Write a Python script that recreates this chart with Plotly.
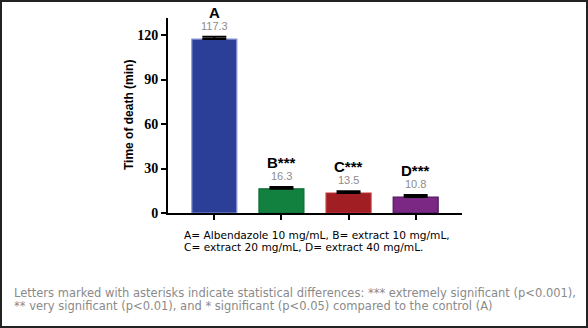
import plotly.graph_objects as go

categories = ["A", "B", "C", "D"]
letter_labels = ["A", "B***", "C***", "D***"]
means = [117.3, 16.3, 13.5, 10.8]
errors = [1.5, 1.2, 1.1, 1.3]
value_labels = ["117.3", "16.3", "13.5", "10.8"]
fill_colors = ["#2c3f98", "#12813f", "#a11f22", "#7a2884"]
line_colors = ["#8696d6", "#0d6b33", "#c0393a", "#4f1560"]
y_ticks = [0, 30, 60, 90, 120]
caption_lines = ["A= Albendazole 10 mg/mL, B= extract 10 mg/mL,",
                 "C= extract 20 mg/mL, D= extract 40 mg/mL."]
note_lines = ["Letters marked with asterisks indicate statistical differences: *** extremely significant (p&lt;0.001),",
              "** very significant (p&lt;0.01), and * significant (p&lt;0.05) compared to the control (A)"]

W, H = 588, 328
L, R, T, B = 168, 462, 18, 213  # plot area in px
pw, ph = R - L, B - T

def px(x):
    return (x - L) / pw

def py(y):
    return (B - y) / ph

fig = go.Figure()
fig.add_trace(go.Bar(
    x=categories, y=means, width=0.67,
    marker=dict(color=fill_colors, line=dict(color=line_colors, width=1.2)),
    error_y=dict(type="data", array=errors, arrayminus=[0] * 4, symmetric=False,
                 color="black", thickness=2, width=12),
))

annotations = []
for c, m, e, lab, v in zip(categories, means, errors, letter_labels, value_labels):
    annotations.append(dict(x=c, y=m + e, xref="x", yref="y", text=v, showarrow=False,
                            yanchor="bottom", yshift=3,
                            font=dict(family="Liberation Sans, Arial", size=11, color="#8c8c8c")))
    annotations.append(dict(x=c, y=m + e, xref="x", yref="y", text="<b>" + lab + "</b>", showarrow=False,
                            yanchor="bottom", yshift=14,
                            font=dict(family="Liberation Sans, Arial", size=15, color="black")))

annotations.append(dict(x=px(129), y=py(115), xref="paper", yref="paper", text="<b>Time of death (min)</b>",
                        textangle=-90, showarrow=False, xanchor="center", yanchor="middle",
                        font=dict(family="Liberation Sans, Arial", size=12, color="black")))
for line, yc in zip(caption_lines, [235, 246.5]):
    annotations.append(dict(x=px(182), y=py(yc), xref="paper", yref="paper", text=line,
                            showarrow=False, xanchor="left", yanchor="middle", align="left",
                            font=dict(family="DejaVu Sans", size=10.6, color="black")))
for line, yc in zip(note_lines, [293, 305.5]):
    annotations.append(dict(x=px(12), y=py(yc), xref="paper", yref="paper", text=line,
                            showarrow=False, xanchor="left", yanchor="middle", align="left",
                            font=dict(family="DejaVu Sans", size=11.5, color="#8a8a8a")))

shapes = [dict(type="rect", xref="paper", yref="paper", x0=px(1), x1=px(587), y0=py(327), y1=py(1),
               line=dict(color="#222222", width=2), fillcolor="rgba(0,0,0,0)")]

fig.update_layout(
    width=W, height=H,
    margin=dict(l=L, r=W - R, t=T, b=H - B, pad=0),
    paper_bgcolor="white", plot_bgcolor="white",
    showlegend=False,
    annotations=annotations,
    shapes=shapes,
    xaxis=dict(range=[-0.69, 3.69], showticklabels=False, ticks="outside", ticklen=5, tickwidth=2,
               tickcolor="black", showline=True, linecolor="black", linewidth=2, showgrid=False,
               zeroline=False),
    yaxis=dict(range=[0, 131.5], tickvals=y_ticks, ticks="outside", ticklen=5, tickwidth=2,
               tickcolor="black", showline=True, linecolor="black", linewidth=2, showgrid=False,
               zeroline=False,
               tickfont=dict(family="Liberation Serif, Times New Roman", size=14, color="black", weight="bold")),
)

fig.write_html("out.html")
